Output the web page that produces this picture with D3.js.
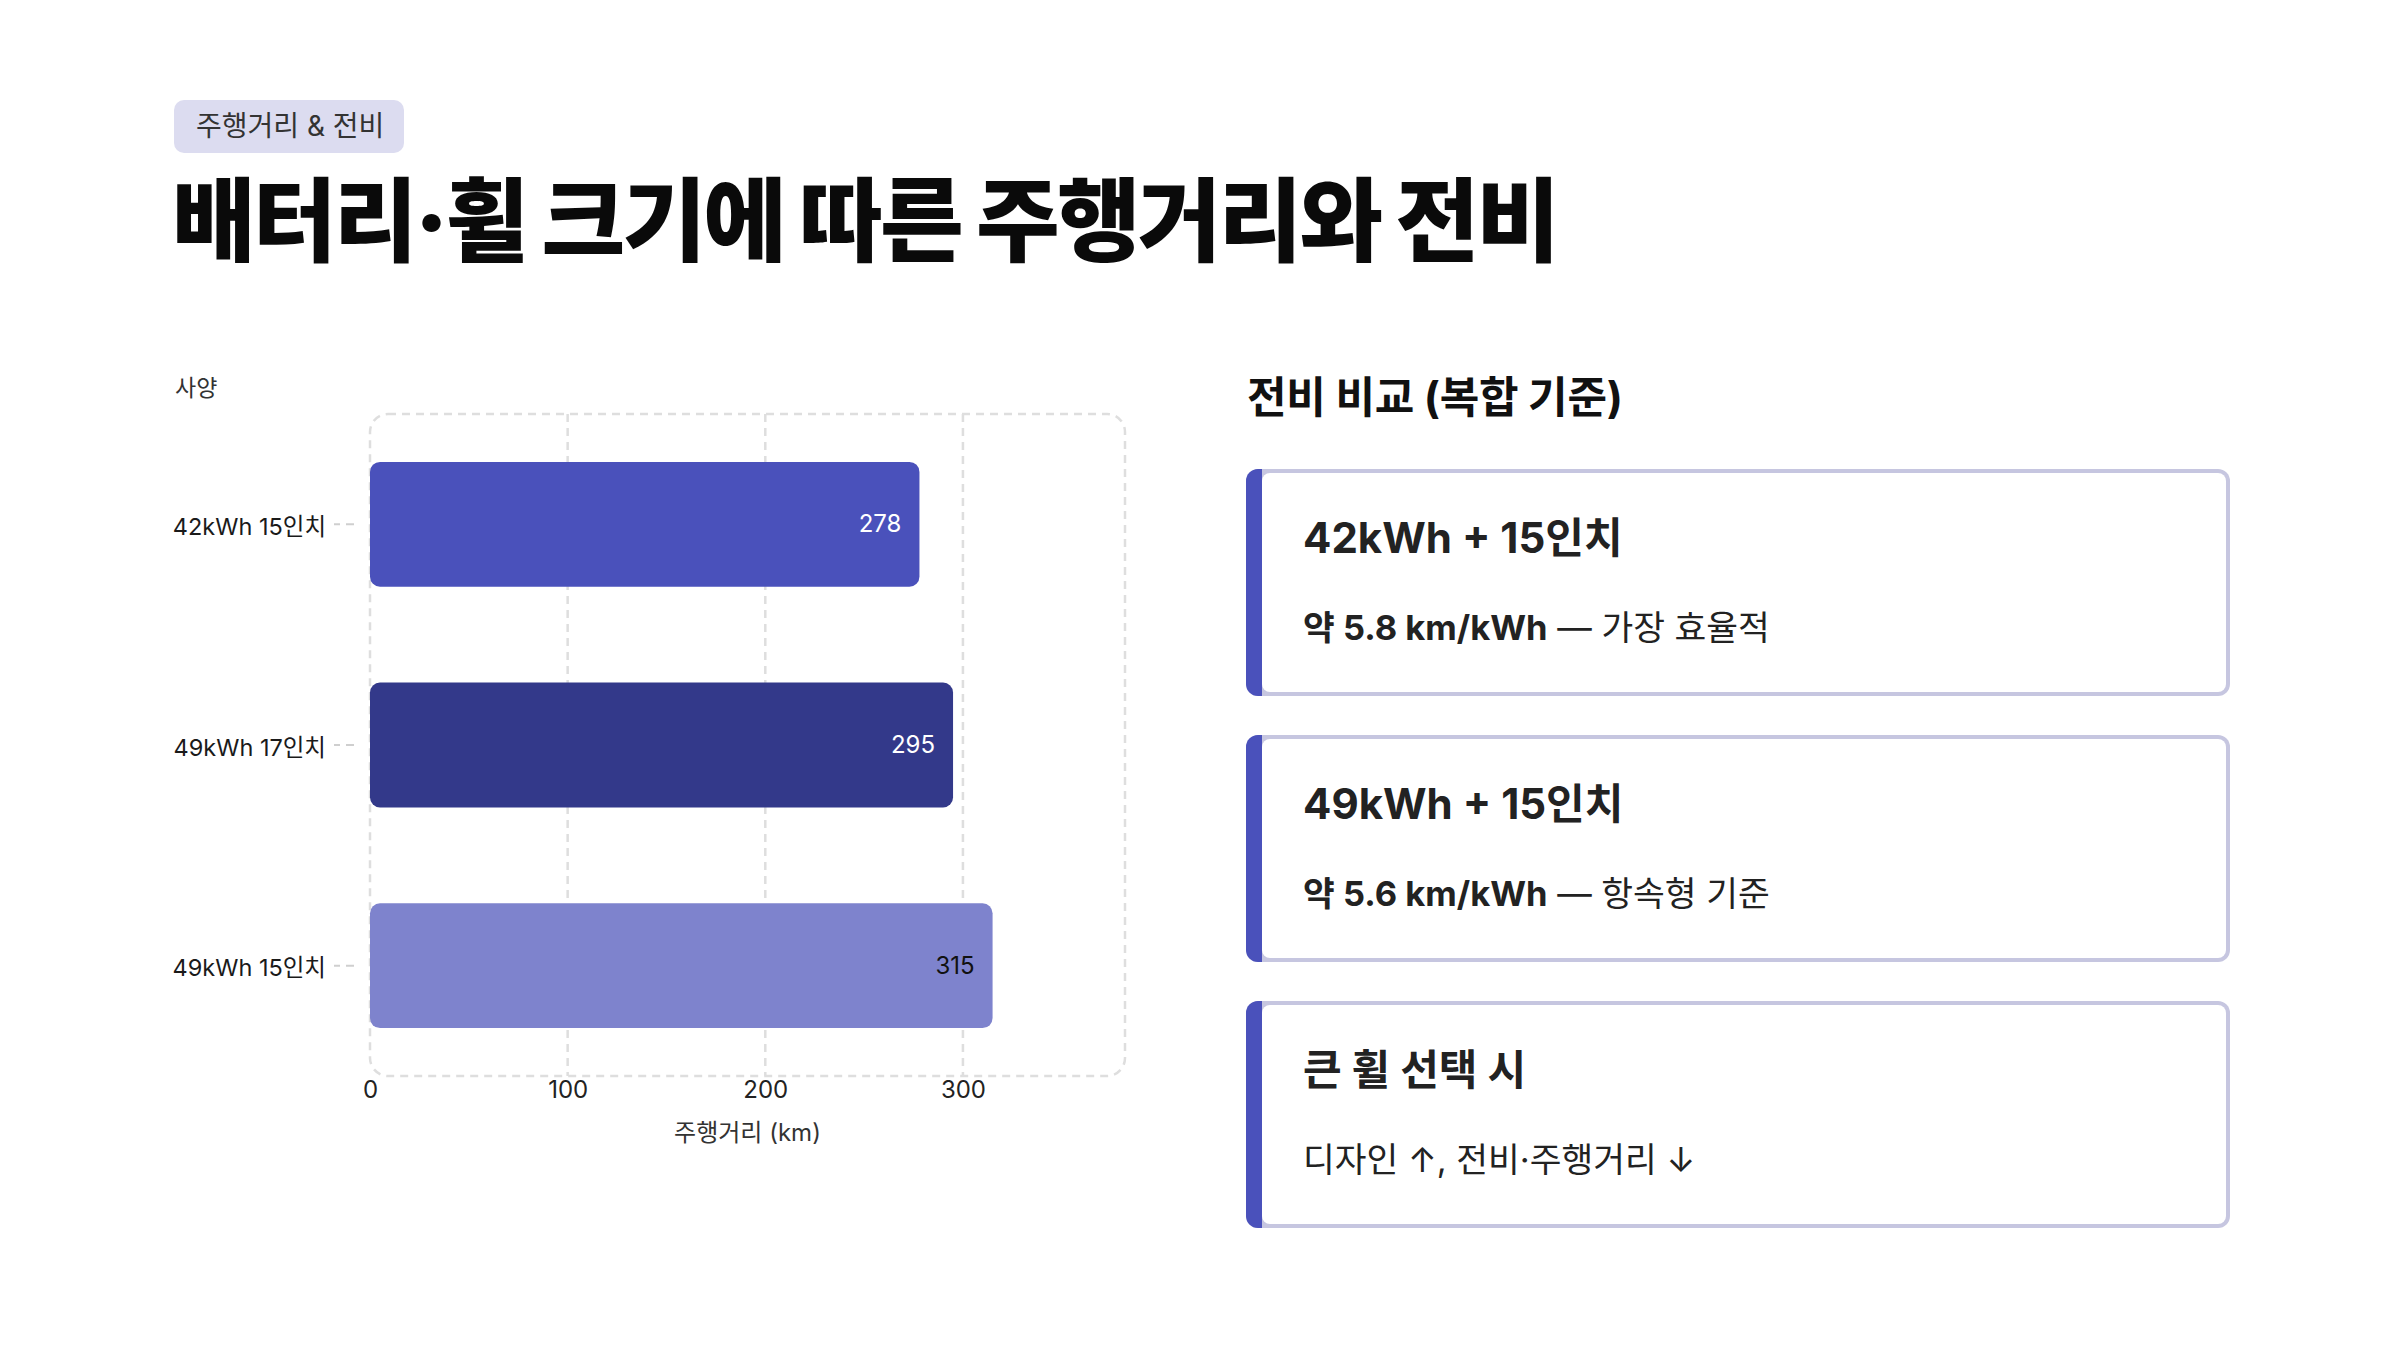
<!DOCTYPE html>
<html>
<head>
<meta charset="utf-8">
<script src="https://cdn.jsdelivr.net/npm/d3@7"></script>
<style>
	html, body { margin: 0; padding: 0; background: #fff; }
	svg { display: block; }
	text { font-family: "Inter", "Noto Sans CJK KR", sans-serif; }
</style>
</head>
<body>
<div id="chart"></div>
<script>
// chart data
var specs = ["42kWh 15인치", "49kWh 17인치", "49kWh 15인치"];
var ranges = [278, 295, 315];
var barColors = ["#4a51bb", "#33398a", "#7e83cd"];
var valueColors = ["#ffffff", "#ffffff", "#111111"];
var xTicks = [0, 100, 200, 300];
var xMax = 382;

// efficiency cards
var cardTitles = ["42kWh + 15인치", "49kWh + 15인치", "큰 휠 선택 시"];
var cardStrong = ["약 5.8 km/kWh", "약 5.6 km/kWh", ""];
var cardRest = [" — 가장 효율적", " — 항속형 기준", "디자인 ↑, 전비·주행거리 ↓"];

var _width = 2400,
	_height = 1368;

var svg = d3.select("#chart").append("svg")
	.attr("width", _width)
	.attr("height", _height);

//
// Header
//
svg.append("rect")
	.attr("x", 174)
	.attr("y", 100)
	.attr("width", 230)
	.attr("height", 53)
	.attr("rx", 10)
	.attr("fill", "#dcdcf0");

svg.append("text")
	.attr("x", 196)
	.attr("y", 136)
	.attr("font-size", 28)
	.attr("fill", "#333")
	.text("주행거리 & 전비");

svg.append("text")
	.attr("x", 172)
	.attr("y", 254)
	.attr("font-size", 91)
	.attr("font-weight", 900)
	.attr("letter-spacing", "-2.9px")
	.attr("fill", "#0a0a0a")
	.text("배터리·휠 크기에 따른 주행거리와 전비");

//
// Bar chart
//
var plot = { left: 370, right: 1125, top: 414, bottom: 1076 };

var x = d3.scaleLinear()
	.domain([0, xMax])
	.range([plot.left, plot.right]);

var y = d3.scaleBand()
	.domain(specs)
	.range([plot.top, plot.bottom])
	.paddingInner(0.434)
	.paddingOuter(0.217);

// frame
svg.append("rect")
	.attr("x", plot.left)
	.attr("y", plot.top)
	.attr("width", plot.right - plot.left)
	.attr("height", plot.bottom - plot.top)
	.attr("rx", 18)
	.attr("fill", "none")
	.attr("stroke", "#dedede")
	.attr("stroke-width", 2.5)
	.attr("stroke-dasharray", "8,6");

// grid
svg.selectAll("line.grid")
	.data(xTicks.filter(function(d) { return d > 0; }))
	.enter()
	.append("line")
	.attr("class", "grid")
	.attr("x1", function(d) { return x(d); })
	.attr("x2", function(d) { return x(d); })
	.attr("y1", plot.top)
	.attr("y2", plot.bottom)
	.attr("stroke", "#dedede")
	.attr("stroke-width", 2.5)
	.attr("stroke-dasharray", "8,6");

// x axis
var xAxis = svg.append("g")
	.attr("transform", "translate(0," + plot.bottom + ")")
	.call(d3.axisBottom(x).tickValues(xTicks).tickSize(0).tickPadding(5));
xAxis.select(".domain").remove();
xAxis.selectAll("text")
	.attr("font-size", 24)
	.attr("fill", "#222")
	.style("font-family", "Inter, 'Noto Sans CJK KR', sans-serif");

svg.append("text")
	.attr("x", (plot.left + plot.right) / 2)
	.attr("y", 1141)
	.attr("text-anchor", "middle")
	.attr("font-size", 24)
	.attr("fill", "#333")
	.text("주행거리 (km)");

// y axis
var yAxis = svg.append("g")
	.attr("transform", "translate(354,0)")
	.call(d3.axisLeft(y).tickSize(20).tickPadding(8));
yAxis.select(".domain").remove();
yAxis.selectAll(".tick line")
	.attr("stroke", "#cfcfcf")
	.attr("stroke-width", 2)
	.attr("stroke-dasharray", "8,6");
yAxis.selectAll("text")
	.attr("font-size", 23.5)
	.attr("dy", "0.45em")
	.attr("fill", "#1a1a1a")
	.style("font-family", "Inter, 'Noto Sans CJK KR', sans-serif");

svg.append("text")
	.attr("x", 175)
	.attr("y", 396)
	.attr("font-size", 23)
	.attr("fill", "#333")
	.text("사양");

// bars
svg.selectAll("rect.bar")
	.data(ranges)
	.enter()
	.append("rect")
	.attr("class", "bar")
	.attr("x", x(0))
	.attr("y", function(d, i) { return y(specs[i]); })
	.attr("width", function(d) { return x(d) - x(0); })
	.attr("height", y.bandwidth())
	.attr("rx", 10)
	.attr("fill", function(d, i) { return barColors[i]; });

svg.selectAll("text.value")
	.data(ranges)
	.enter()
	.append("text")
	.attr("class", "value")
	.attr("x", function(d) { return x(d) - 18; })
	.attr("y", function(d, i) { return y(specs[i]) + y.bandwidth() / 2 + 8; })
	.attr("text-anchor", "end")
	.attr("font-size", 24)
	.attr("fill", function(d, i) { return valueColors[i]; })
	.text(function(d) { return d; });

//
// Right panel
//
svg.append("text")
	.attr("x", 1247)
	.attr("y", 413)
	.attr("font-size", 43)
	.attr("font-weight", 700)
	.attr("letter-spacing", "-0.3px")
	.attr("fill", "#111")
	.text("전비 비교 (복합 기준)");

var card = { left: 1246, width: 984, height: 227, top: 469, gap: 39, accent: 16, border: 4 };

var defs = svg.append("defs");

var cards = svg.selectAll("g.card")
	.data(cardTitles)
	.enter()
	.append("g")
	.attr("class", "card")
	.attr("transform", function(d, i) {
		return "translate(" + card.left + "," + (card.top + i * (card.height + card.gap)) + ")";
	});

cards.each(function(d, i) {
	var g = d3.select(this);

	defs.append("clipPath")
		.attr("id", "cardClip" + i)
		.append("rect")
		.attr("width", card.width)
		.attr("height", card.height)
		.attr("rx", 12);

	// border
	g.append("rect")
		.attr("width", card.width)
		.attr("height", card.height)
		.attr("rx", 12)
		.attr("fill", "#c6c6e0");

	g.append("rect")
		.attr("x", card.accent)
		.attr("y", card.border)
		.attr("width", card.width - card.accent - card.border)
		.attr("height", card.height - 2 * card.border)
		.attr("rx", 8)
		.attr("fill", "#fff");

	// accent
	g.append("rect")
		.attr("clip-path", "url(#cardClip" + i + ")")
		.attr("width", card.accent)
		.attr("height", card.height)
		.attr("fill", "#4a51bb");

	g.append("text")
		.attr("x", 57)
		.attr("y", 84)
		.attr("font-size", 42)
		.attr("font-weight", 700)
		.attr("fill", "#222")
		.text(d);

	var sub = g.append("text")
		.attr("x", 57)
		.attr("y", 171)
		.attr("font-size", 34.5)
		.attr("fill", "#222");
	if (cardStrong[i]) {
		sub.append("tspan")
			.attr("font-weight", 700)
			.text(cardStrong[i]);
	}
	sub.append("tspan")
		.attr("font-weight", 400)
		.style("white-space", "pre")
		.text(cardRest[i]);
});
</script>
</body>
</html>
